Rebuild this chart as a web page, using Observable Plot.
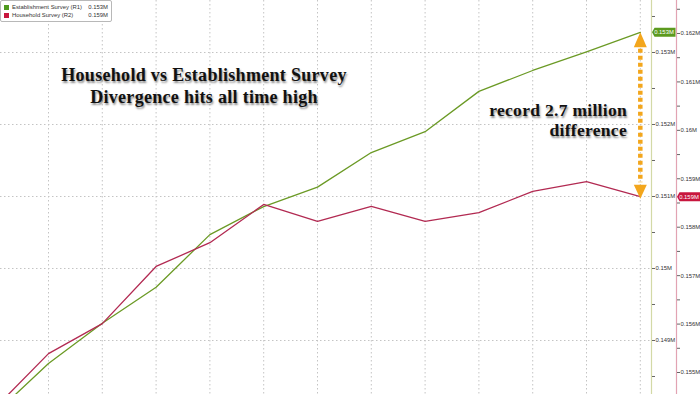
<!DOCTYPE html>
<html><head><meta charset="utf-8">
<script src="https://cdn.jsdelivr.net/npm/d3@7"></script>
<script src="https://cdn.jsdelivr.net/npm/@observablehq/plot@0.6"></script>
<style>
body{margin:0;background:#fff;}
#wrap{position:relative;width:700px;height:394px;overflow:hidden;font-family:"Liberation Sans",Arial,sans-serif;}
.legend{position:absolute;left:0;top:0;width:110px;height:20px;border:1px solid #b8b8b8;border-radius:2px;background:rgba(255,255,255,0.92);font-size:5.9px;color:#333;}
.legend .row{position:absolute;left:3px;right:3px;height:8px;line-height:8px;white-space:nowrap;}
.legend .sw{display:inline-block;width:5px;height:5px;margin-right:3px;vertical-align:-0.5px}
.legend .val{position:absolute;right:0;top:0}
.note{position:absolute;font-family:"Liberation Serif","DejaVu Serif",serif;font-weight:bold;color:#111;text-shadow:1px 2px 2px rgba(0,0,0,0.45);white-space:nowrap;}
</style></head><body>
<div id="wrap"></div>
<script>
// month index (-1 is the clipped point at the left edge)
const period = [-1, 0, 1, 2, 3, 4, 5, 6, 7, 8, 9, 10, 11];
// Establishment Survey (R1), millions-format as on axis
const establishment = [0.14798, 0.14868, 0.14924, 0.14974, 0.15047, 0.15086, 0.15113, 0.15161, 0.15190, 0.15246, 0.15275, 0.15301, 0.15328];
// Household Survey (R2)
const household = [0.15426, 0.15539, 0.15601, 0.15719, 0.15768, 0.15847, 0.15812, 0.15843, 0.15812, 0.15830, 0.15874, 0.15894, 0.15863];
const r1Ticks = [0.149, 0.15, 0.151, 0.152, 0.153];
const r1Minor = [0.1485, 0.1495, 0.1505, 0.1515, 0.1525, 0.1535];
const r2Ticks = [0.155, 0.156, 0.157, 0.158, 0.159, 0.16, 0.161, 0.162];
const r2Minor = [0.1555, 0.1565, 0.1575, 0.1585, 0.1595, 0.1605, 0.1615, 0.1625];
const seriesNames = ["Establishment Survey (R1)", "Household Survey (R2)"];
const lastLabels = ["0.153M", "0.159M"];
const titleLines = ["Household vs Establishment Survey", "Divergence hits all time high"];
const noteLines = ["record 2.7 million", "difference"];

const GREEN = "#6b9a25", RED = "#b22a52", ORANGE = "#f3a61c";
const xDomain = [-0.892, 11.208];
const r1Domain = [0.14825, 0.153722];
const r2Domain = [0.154546, 0.162681];
const r2ToR1 = d3.scaleLinear().domain(r2Domain).range(r1Domain);
const fmt = v => (+(+v).toFixed(4)) + "M";

const estData = period.map((k, i) => ({k, v: establishment[i]}));
const hhData = period.map((k, i) => ({k, v: r2ToR1(household[i])}));
const lastK = period[period.length - 1];
const estLast = establishment[establishment.length - 1];
const hhLast = r2ToR1(household[household.length - 1]);

const tag = {draw(ctx) { ctx.moveTo(-12, 0); ctx.lineTo(-9.5, -4.5); ctx.lineTo(11.5, -4.5); ctx.lineTo(11.5, 4.5); ctx.lineTo(-9.5, 4.5); ctx.closePath(); }};
const upHead = {draw(ctx) { ctx.moveTo(0, 0); ctx.lineTo(6.5, 15); ctx.lineTo(-6.5, 15); ctx.closePath(); }};
const downHead = {draw(ctx) { ctx.moveTo(0, 0); ctx.lineTo(6.5, -14); ctx.lineTo(-6.5, -14); ctx.closePath(); }};

const axisCommon = {anchor: "right", tickSize: 3, tickPadding: 1, fontSize: 5.9, stroke: "#666", fill: "#333", label: null};

const chart = Plot.plot({
  width: 700, height: 394,
  marginLeft: 0, marginRight: 49, marginTop: 0, marginBottom: 0,
  style: {fontFamily: "Liberation Sans, Arial, sans-serif", background: "white", color: "#333"},
  x: {domain: xDomain, axis: null},
  y: {domain: r1Domain},
  marks: [
    Plot.ruleX(period.filter(k => k >= 0), {stroke: "#c4c4c4", strokeDasharray: "1.5,2.5"}),
    Plot.ruleY(r1Ticks, {stroke: "#c4c4c4", strokeDasharray: "1.5,2.5"}),
    Plot.line(estData, {x: "k", y: "v", stroke: GREEN, strokeWidth: 1.3, clip: true}),
    Plot.line(hhData, {x: "k", y: "v", stroke: RED, strokeWidth: 1.3, clip: true}),
    Plot.ruleX([xDomain[1]], {stroke: "#d3d9a6", strokeWidth: 1.2}),
    Plot.ruleX([xDomain[1]], {stroke: "#e2a3b3", strokeWidth: 1.2, dx: 25}),
    Plot.axisY(r1Ticks, {...axisCommon, tickFormat: fmt}),
    Plot.axisY(r1Minor, {...axisCommon, tickFormat: () => ""}),
    Plot.axisY(r2Ticks.map(r2ToR1), {...axisCommon, dx: 25, tickFormat: d => fmt(r2ToR1.invert(d))}),
    Plot.axisY(r2Minor.map(r2ToR1), {...axisCommon, dx: 25, tickFormat: () => ""}),
    // arrow
    Plot.ruleX([lastK], {y1: estLast, y2: hhLast, stroke: ORANGE, strokeWidth: 4.5, strokeDasharray: "4,3", insetTop: 17, insetBottom: 14}),
    Plot.dot([estLast], {x: lastK, y: d => d, symbol: upHead, fill: ORANGE, stroke: null, r: 5}),
    Plot.dot([hhLast], {x: lastK, y: d => d, symbol: downHead, fill: ORANGE, stroke: null, r: 5, dy: 2}),
    // last value tags
    Plot.dot([estLast], {y: d => d, frameAnchor: "right", dx: 12.5, symbol: tag, fill: "#5c9a1e", stroke: null, r: 5}),
    Plot.text([estLast], {y: d => d, frameAnchor: "right", dx: 12.5, textAnchor: "middle", text: () => lastLabels[0], fill: "white", fontSize: 5.9}),
    Plot.dot([hhLast], {y: d => d, frameAnchor: "right", dx: 37.5, symbol: tag, fill: "#c8163e", stroke: null, r: 5}),
    Plot.text([hhLast], {y: d => d, frameAnchor: "right", dx: 37.5, textAnchor: "middle", text: () => lastLabels[1], fill: "white", fontSize: 5.9})
  ]
});

const wrap = document.getElementById("wrap");
wrap.appendChild(chart);

const legend = document.createElement("div");
legend.className = "legend";
seriesNames.forEach((name, i) => {
  const row = document.createElement("div");
  row.className = "row";
  row.style.top = (2 + i * 8) + "px";
  row.innerHTML = `<span class="sw" style="background:${i ? "#c8163e" : "#4f9a1e"}"></span>${name}<span class="val">${lastLabels[i]}</span>`;
  legend.appendChild(row);
});
wrap.appendChild(legend);

const title = document.createElement("div");
title.className = "note";
title.style.cssText = "left:204px;top:64px;transform:translateX(-50%);text-align:center;font-size:18px;letter-spacing:0.3px;line-height:22px;";
title.innerHTML = titleLines.join("<br>");
wrap.appendChild(title);

const note = document.createElement("div");
note.className = "note";
note.style.cssText = "right:73px;top:100px;text-align:right;font-size:17.5px;letter-spacing:0.3px;line-height:20px;";
note.innerHTML = noteLines.join("<br>");
wrap.appendChild(note);
</script>
</body></html>
